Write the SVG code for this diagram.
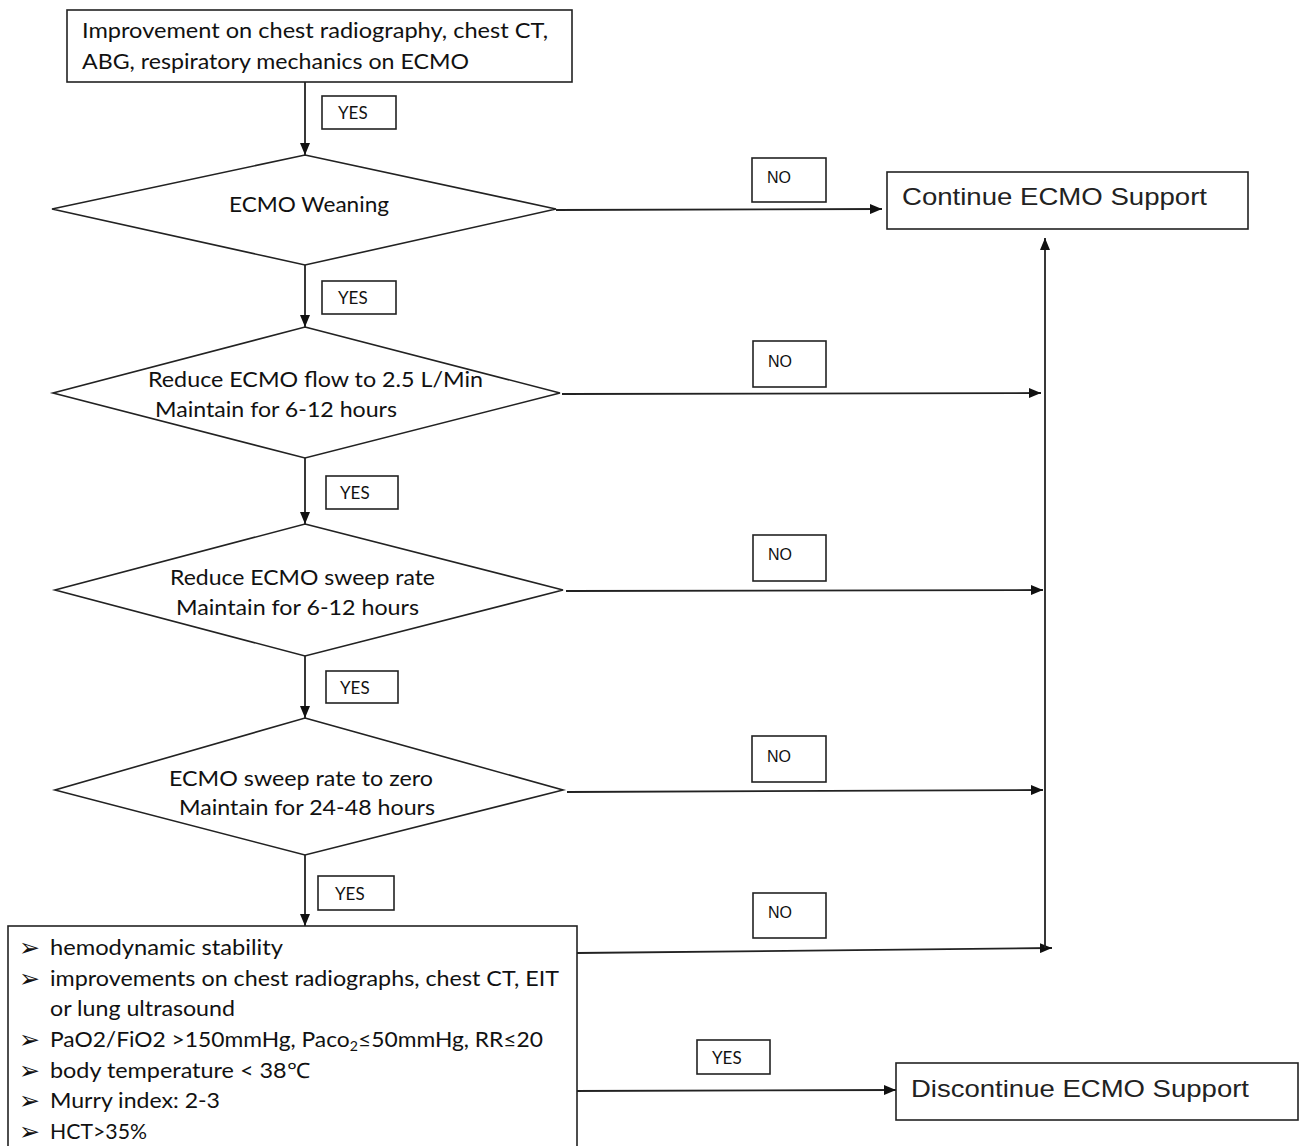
<svg xmlns="http://www.w3.org/2000/svg" width="1300" height="1146" viewBox="0 0 1300 1146">
<style>
.box{fill:#fff;stroke:#222;stroke-width:1.6}
.lbl{fill:#fff;stroke:#222;stroke-width:1.6}
.t{font-family:Lato,"Open Sans",sans-serif;font-size:21px;fill:#111}
.yes{font-family:Lato,"Open Sans",sans-serif;font-size:17px;fill:#111}
.no{font-family:"Liberation Sans",Arial,sans-serif;font-size:16px;fill:#111}
.big{font-family:"Liberation Sans",Arial,sans-serif;font-size:24px;fill:#222}
.bul{font-family:"DejaVu Sans",sans-serif;font-size:25px;fill:#111}
.c{fill:none;stroke:#222;stroke-width:1.8}
</style>
<defs>
<marker id="ah" markerWidth="12" markerHeight="10" refX="12" refY="5" orient="auto" markerUnits="userSpaceOnUse">
<path d="M0,0 L12,5 L0,10 Z" fill="#111"/>
</marker>
</defs>
<rect width="1300" height="1146" fill="#fff"/>

<g id="connectors">
<line class="c" x1="305" y1="82" x2="305" y2="155" marker-end="url(#ah)"/>
<line class="c" x1="305" y1="265" x2="305" y2="327" marker-end="url(#ah)"/>
<line class="c" x1="305" y1="458" x2="305" y2="524" marker-end="url(#ah)"/>
<line class="c" x1="305" y1="656" x2="305" y2="718" marker-end="url(#ah)"/>
<line class="c" x1="305" y1="855" x2="305" y2="926" marker-end="url(#ah)"/>
<line class="c" x1="556" y1="210" x2="882" y2="209" marker-end="url(#ah)"/>
<line class="c" x1="562" y1="394" x2="1041" y2="393" marker-end="url(#ah)"/>
<line class="c" x1="566" y1="591" x2="1043" y2="590" marker-end="url(#ah)"/>
<line class="c" x1="567" y1="792" x2="1043" y2="790" marker-end="url(#ah)"/>
<line class="c" x1="577" y1="953" x2="1052" y2="948" marker-end="url(#ah)"/>
<line class="c" x1="1045" y1="948" x2="1045" y2="238" marker-end="url(#ah)"/>
<line class="c" x1="573" y1="1091" x2="896" y2="1090" marker-end="url(#ah)"/>
</g>

<g id="n_start">
<rect class="box" x="67" y="10" width="505" height="72"/>
<text class="t" x="82" y="38" textLength="466" lengthAdjust="spacingAndGlyphs">Improvement on chest radiography, chest CT,</text>
<text class="t" x="82" y="69" textLength="387" lengthAdjust="spacingAndGlyphs">ABG, respiratory mechanics on ECMO</text>
</g>

<g id="n_wean">
<polygon class="box" points="305,155 556,209 305,265 52,209"/>
<text class="t" x="229" y="212" textLength="160" lengthAdjust="spacingAndGlyphs">ECMO Weaning</text>
</g>

<g id="n_flow">
<polygon class="box" points="305,327 560,393 305,458 53,393"/>
<text class="t" x="148" y="387" textLength="335" lengthAdjust="spacingAndGlyphs">Reduce ECMO flow to 2.5 L/Min</text>
<text class="t" x="155" y="417" textLength="242" lengthAdjust="spacingAndGlyphs">Maintain for 6-12 hours</text>
</g>

<g id="n_sweep">
<polygon class="box" points="305,524 563,590 305,656 55,590"/>
<text class="t" x="170" y="585" textLength="265" lengthAdjust="spacingAndGlyphs">Reduce ECMO sweep rate</text>
<text class="t" x="176" y="615" textLength="243" lengthAdjust="spacingAndGlyphs">Maintain for 6-12 hours</text>
</g>

<g id="n_zero">
<polygon class="box" points="305,718 563,790 305,855 55,790"/>
<text class="t" x="169" y="786" textLength="264" lengthAdjust="spacingAndGlyphs">ECMO sweep rate to zero</text>
<text class="t" x="179" y="815" textLength="256" lengthAdjust="spacingAndGlyphs">Maintain for 24-48 hours</text>
</g>

<g id="n_criteria">
<rect class="box" x="8" y="926" width="569" height="240"/>
<text class="bul" x="19" y="956">➢</text>
<text class="t" x="50" y="955" textLength="233" lengthAdjust="spacingAndGlyphs">hemodynamic stability</text>
<text class="bul" x="19" y="987">➢</text>
<text class="t" x="50" y="986" textLength="509" lengthAdjust="spacingAndGlyphs">improvements on chest radiographs, chest CT, EIT</text>
<text class="t" x="50" y="1016" textLength="185" lengthAdjust="spacingAndGlyphs">or lung ultrasound</text>
<text class="bul" x="19" y="1048">➢</text>
<text class="t" x="50" y="1047" textLength="493" lengthAdjust="spacingAndGlyphs">PaO2/FiO2 &gt;150mmHg, Paco<tspan font-size="13" dy="4">2</tspan><tspan dy="-4">≤50mmHg, RR≤20</tspan></text>
<text class="bul" x="19" y="1079">➢</text>
<text class="t" x="50" y="1078" textLength="260" lengthAdjust="spacingAndGlyphs">body temperature &lt; 38℃</text>
<text class="bul" x="19" y="1109">➢</text>
<text class="t" x="50" y="1108" textLength="170" lengthAdjust="spacingAndGlyphs">Murry index: 2-3</text>
<text class="bul" x="19" y="1140">➢</text>
<text class="t" x="50" y="1139" textLength="97" lengthAdjust="spacingAndGlyphs">HCT&gt;35%</text>
</g>

<g id="n_continue">
<rect class="box" x="887" y="172" width="361" height="57"/>
<text class="big" x="902" y="205" textLength="305" lengthAdjust="spacingAndGlyphs">Continue ECMO Support</text>
</g>

<g id="n_discontinue">
<rect class="box" x="896" y="1063" width="402" height="57"/>
<text class="big" x="911" y="1097" textLength="338" lengthAdjust="spacingAndGlyphs">Discontinue ECMO Support</text>
</g>

<g id="labels">
<rect class="lbl" x="322" y="96" width="74" height="33"/><text class="yes" x="338" y="119">YES</text>
<rect class="lbl" x="322" y="281" width="74" height="33"/><text class="yes" x="338" y="304">YES</text>
<rect class="lbl" x="326" y="476" width="72" height="33"/><text class="yes" x="340" y="499">YES</text>
<rect class="lbl" x="326" y="671" width="72" height="32"/><text class="yes" x="340" y="694">YES</text>
<rect class="lbl" x="318" y="876" width="76" height="34"/><text class="yes" x="335" y="900">YES</text>
<rect class="lbl" x="697" y="1040" width="73" height="34"/><text class="yes" x="712" y="1064">YES</text>
<rect class="lbl" x="752" y="158" width="74" height="44"/><text class="no" x="767" y="183">NO</text>
<rect class="lbl" x="753" y="341" width="73" height="46"/><text class="no" x="768" y="367">NO</text>
<rect class="lbl" x="753" y="535" width="73" height="46"/><text class="no" x="768" y="560">NO</text>
<rect class="lbl" x="752" y="736" width="74" height="46"/><text class="no" x="767" y="762">NO</text>
<rect class="lbl" x="753" y="893" width="73" height="45"/><text class="no" x="768" y="918">NO</text>
</g>
</svg>
